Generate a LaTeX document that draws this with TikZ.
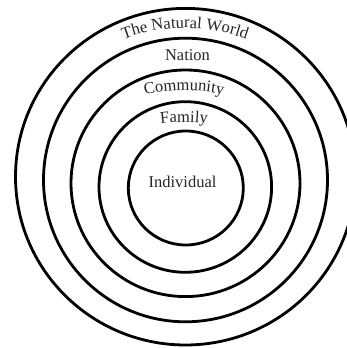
\documentclass[tikz,border=0pt]{standalone}
\usepackage{fontspec}
\setmainfont{Liberation Serif}
\usetikzlibrary{decorations.text,calc}
\newcommand{\lblfont}{\fontsize{16.5}{20}\selectfont}
\tikzset{
  ring/.style={draw=black, line width=2.8pt},
  lbl/.style={font=\lblfont, text=black!85, inner sep=0pt},
  arclbl/.style={decorate, decoration={text along path, text align=center, text color=black!85}}
}
\begin{document}
\begin{tikzpicture}[x=1pt,y=1pt]
\useasboundingbox (0,0) rectangle (347,348);
\fill[white] (0,0) rectangle (347,348);
\clip (0,0) rectangle (347,348);
% rings
\draw[ring] (185.5,171.3) ellipse [x radius=170, y radius=168.3];
\draw[ring] (185.5,168) ellipse [x radius=142, y radius=141.8];
\draw[ring] (185.5,164.7) ellipse [x radius=114.5, y radius=113.3];
\draw[ring] (185.3,161) ellipse [x radius=86.3, y radius=85.3];
\draw[ring] (185.8,160) ellipse [x radius=57.5, y radius=57];
% curved labels
\path[arclbl, decoration={text={|\lblfont|The Natural World}}]
  ($(185,145)+(125:175)$) arc[start angle=125, end angle=55, radius=175];
\path[arclbl, decoration={text={|\lblfont|Community}}]
  ($(184,67.5)+(115:190)$) arc[start angle=115, end angle=65, radius=190];
\path[arclbl, decoration={text={|\lblfont|Family}}]
  ($(184,46)+(110:180)$) arc[start angle=110, end angle=70, radius=180];
% straight labels
\node[lbl, anchor=base] (nation) at (187.5,287) {Nation};
\node[lbl, anchor=base] (individual) at (182.5,160) {Individual};
\end{tikzpicture}
\end{document}
